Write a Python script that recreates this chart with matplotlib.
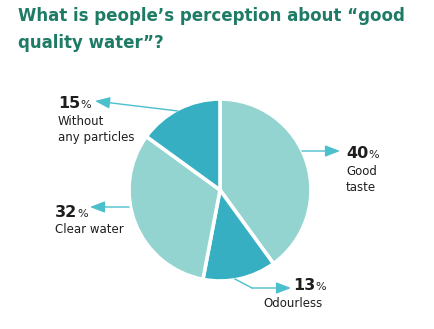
import matplotlib.pyplot as plt

# chart data
labels = [['Good', 'taste'], ['Odourless'], ['Clear water'], ['Without', 'any particles']]
shares = [40, 13, 32, 15]
pct_text = ['40', '13', '32', '15']

title_1 = 'What is people\u2019s perception about \u201cgood'
title_2 = 'quality water\u201d?'

light = '#93D4D0'
dark = '#36AFC3'
arrow_col = '#4CBFCC'
title_col = '#1E7B66'
text_col = '#1E1E1E'

W, H = 434, 329

fig = plt.figure(figsize=(W / 100, H / 100), dpi=100)
ax = fig.add_axes([0, 0, 1, 1])

def py(y):
    # pixel y (from top) to axis y
    return H - y

ax.pie(shares, colors=[light, dark, light, dark], startangle=90, counterclock=False,
       center=(220, py(190)), radius=91,
       wedgeprops=dict(edgecolor='white', linewidth=2.6))

ax.set_xlim(0, W)
ax.set_ylim(0, H)
ax.set_aspect('auto')
ax.axis('off')

# title
ax.text(18, py(21), title_1, fontsize=12, fontweight='bold', color=title_col, va='baseline')
ax.text(18, py(48), title_2, fontsize=12, fontweight='bold', color=title_col, va='baseline')

# labels: (x of number, baseline of number, x of label text, baseline of label)
spots = [
    (346, 158, 346, 175),
    (293, 290, 263, 307),
    (55, 217, 55, 233),
    (58, 108, 58, 125),
]
for (nx, nb, lx, lb), p, lab in zip(spots, pct_text, labels):
    ax.text(nx, py(nb), p, fontsize=11.5, fontweight='bold', color=text_col, va='baseline')
    ax.text(nx + 22, py(nb), '%', fontsize=8, color=text_col, va='baseline')
    for i, line in enumerate(lab):
        ax.text(lx, py(lb + 16 * i), line, fontsize=8.5, color=text_col, va='baseline')

# arrows
arrows = [
    ((302, 151), (340, 151)),
    ((252, 288), (291, 288)),
    ((129, 207), (90, 207)),
    ((178, 111), (95, 101)),
]
for start, tip in arrows:
    ax.annotate('', xy=(tip[0], py(tip[1])), xytext=(start[0], py(start[1])),
                arrowprops=dict(arrowstyle='-|>,head_length=0.9,head_width=0.35',
                                color=arrow_col, lw=1, shrinkA=0, shrinkB=0))
ax.plot([235, 252], [py(279), py(288)], color=arrow_col, lw=1)

fig.savefig('out.png', dpi=100)
